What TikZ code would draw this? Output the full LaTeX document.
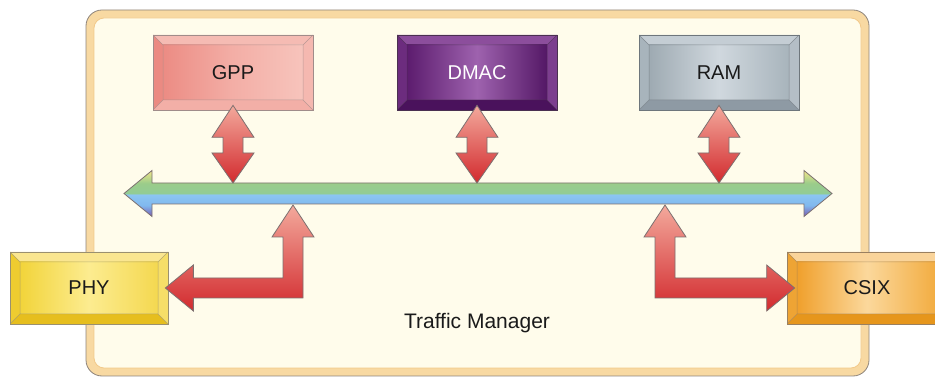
\documentclass[tikz,border=0pt]{standalone}
\usepackage{fontspec}
\setmainfont{Liberation Sans}
\usetikzlibrary{calc}

% frame
\definecolor{frameEdge}{HTML}{8F857C}
\definecolor{frameBand}{HTML}{F8D9A2}
\definecolor{frameInner}{HTML}{FFFCEB}
\definecolor{frameInnerEdge}{HTML}{F2C98A}
% block arrows
\definecolor{arrowTop}{HTML}{F3A99C}
\definecolor{arrowBot}{HTML}{D22A2E}
\definecolor{arrowEdge}{HTML}{7C7070}
\definecolor{labelInk}{HTML}{1A1A1A}
% bus
\definecolor{busPurple}{HTML}{7A5AB0}
\definecolor{busBlue}{HTML}{80B8EE}
\definecolor{busBlueB}{HTML}{8CC6F2}
\definecolor{busGreen}{HTML}{92CC94}
\definecolor{busGreenB}{HTML}{9ACC8A}
\definecolor{busYellow}{HTML}{F2E68A}
% GPP
\definecolor{gppFL}{HTML}{EC8C84}\definecolor{gppFM}{HTML}{F3AEA6}\definecolor{gppFR}{HTML}{F7C4BC}
\definecolor{gppT}{HTML}{F5BBB3}\definecolor{gppB}{HTML}{F3AFA7}
\definecolor{gppL}{HTML}{EB8A82}\definecolor{gppR}{HTML}{F5B8B0}
\definecolor{gppE}{HTML}{A08C8A}
% DMAC
\definecolor{dmacFL}{HTML}{5C1C6E}\definecolor{dmacFM}{HTML}{9E62AE}\definecolor{dmacFR}{HTML}{541866}
\definecolor{dmacT}{HTML}{8C4E9C}\definecolor{dmacB}{HTML}{4A125C}
\definecolor{dmacL}{HTML}{6C2C7E}\definecolor{dmacR}{HTML}{7C3E8E}
\definecolor{dmacE}{HTML}{4A3050}
% RAM
\definecolor{ramFL}{HTML}{9EAAB2}\definecolor{ramFM}{HTML}{D0D8DE}\definecolor{ramFR}{HTML}{A8B4BC}
\definecolor{ramT}{HTML}{C4CDD4}\definecolor{ramB}{HTML}{8E9AA4}
\definecolor{ramL}{HTML}{A8B4BC}\definecolor{ramR}{HTML}{B4BEC6}
\definecolor{ramE}{HTML}{6E767C}
% PHY
\definecolor{phyFL}{HTML}{F2D43A}\definecolor{phyFM}{HTML}{FCEC90}\definecolor{phyFR}{HTML}{F4D850}
\definecolor{phyT}{HTML}{FAE690}\definecolor{phyB}{HTML}{E6BE1E}
\definecolor{phyL}{HTML}{EECC30}\definecolor{phyR}{HTML}{F6DE68}
\definecolor{phyE}{HTML}{9A9070}
% CSIX
\definecolor{csixFL}{HTML}{F0A02C}\definecolor{csixFM}{HTML}{FBD89C}\definecolor{csixFR}{HTML}{F2AC40}
\definecolor{csixT}{HTML}{FAD49A}\definecolor{csixB}{HTML}{E6961C}
\definecolor{csixL}{HTML}{EEA434}\definecolor{csixR}{HTML}{F4BA60}
\definecolor{csixE}{HTML}{9A8060}

\pgfdeclareverticalshading{busshade}{100bp}{%
  color(0bp)=(busPurple); color(25bp)=(busPurple); color(37bp)=(busBlue);
  color(49bp)=(busBlueB); color(50bp)=(busGreen); color(61bp)=(busGreenB);
  color(75bp)=(busYellow); color(100bp)=(busYellow)}

% bevelled face of a box; #1 is the colour prefix
\newcommand\bevelfill[1]{%
  \path (path picture bounding box.north west) coordinate (bNW)
        (path picture bounding box.north east) coordinate (bNE)
        (path picture bounding box.south east) coordinate (bSE)
        (path picture bounding box.south west) coordinate (bSW);
  \path ($(bNW)+(10pt,-10pt)$) coordinate (iNW)
        ($(bNE)+(-10pt,-10pt)$) coordinate (iNE)
        ($(bSE)+(-10pt,10pt)$) coordinate (iSE)
        ($(bSW)+(10pt,10pt)$) coordinate (iSW);
  \fill[#1T] (bNW)--(bNE)--(iNE)--(iNW)--cycle;
  \fill[#1B] (bSW)--(bSE)--(iSE)--(iSW)--cycle;
  \fill[#1L] (bNW)--(bSW)--(iSW)--(iNW)--cycle;
  \fill[#1R] (bNE)--(bSE)--(iSE)--(iNE)--cycle;
  \shade[left color=#1FL, right color=#1FR, middle color=#1FM] (iNW) rectangle (iSE);
  \draw[#1E, line width=0.5pt, opacity=0.7] (iNW) rectangle (iSE)
        (bNW)--(iNW) (bNE)--(iNE) (bSE)--(iSE) (bSW)--(iSW);
}

% double-headed vertical block arrow between two tips
\newcommand\vdarrow[2]{%
  \path[blockarrow] let \p1=(#1), \p2=(#2) in
    (\x1,\y1) -- (\x1+21pt,\y1-32pt) -- (\x1+10pt,\y1-32pt)
    -- (\x1+10pt,\y2+30pt) -- (\x1+21pt,\y2+30pt) -- (\x1,\y2)
    -- (\x1-21pt,\y2+30pt) -- (\x1-10pt,\y2+30pt)
    -- (\x1-10pt,\y1-32pt) -- (\x1-21pt,\y1-32pt) -- cycle;}

% L-shaped block arrow: up to #1, sideways to the left to #2
\newcommand\lleftarrow[2]{%
  \path[blockarrow] let \p1=(#1), \p2=(#2) in
    (\x1,\y1) -- (\x1+21pt,\y1-32pt) -- (\x1+10pt,\y1-32pt)
    -- (\x1+10pt,\y2-10pt) -- (\x2+28pt,\y2-10pt) -- (\x2+28pt,\y2-23pt)
    -- (\x2,\y2) -- (\x2+28pt,\y2+23pt) -- (\x2+28pt,\y2+10pt)
    -- (\x1-10pt,\y2+10pt) -- (\x1-10pt,\y1-32pt) -- (\x1-21pt,\y1-32pt) -- cycle;}

% L-shaped block arrow: up to #1, sideways to the right to #2
\newcommand\lrightarrow[2]{%
  \path[blockarrow] let \p1=(#1), \p2=(#2) in
    (\x1,\y1) -- (\x1+21pt,\y1-32pt) -- (\x1+10pt,\y1-32pt)
    -- (\x1+10pt,\y2+10pt) -- (\x2-28pt,\y2+10pt) -- (\x2-28pt,\y2+23pt)
    -- (\x2,\y2) -- (\x2-28pt,\y2-23pt) -- (\x2-28pt,\y2-10pt)
    -- (\x1-10pt,\y2-10pt) -- (\x1-10pt,\y1-32pt) -- (\x1-21pt,\y1-32pt) -- cycle;}

\begin{document}
\begin{tikzpicture}[x=1pt, y=-1pt,
  bevelbox/.style={rectangle, inner sep=0pt, minimum width=160pt, minimum height=75pt,
    draw=#1E, line width=0.7pt, fill=#1FM, path picture={\bevelfill{#1}},
    font=\fontsize{20}{24}\selectfont, text=labelInk},
  blockarrow/.style={draw=arrowEdge, line width=0.8pt, top color=arrowTop, bottom color=arrowBot},
  busarrow/.style={draw=arrowEdge, line width=0.8pt, shading=busshade}]

\useasboundingbox (0,0) rectangle (935,379);
\fill[white] (0,0) rectangle (935,379);

% Traffic Manager frame
\draw[frameEdge, fill=frameBand, line width=0.8pt, rounded corners=16pt] (86,10) rectangle (869,376);
\draw[frameInnerEdge, fill=frameInner, line width=0.8pt, rounded corners=10pt] (94,18) rectangle (861,368);

% units
\node[bevelbox=gpp]  (gpp)  at (233,72.5) {GPP};
\node[bevelbox=dmac, text=white] (dmac) at (477,72.5) {DMAC};
\node[bevelbox=ram]  (ram)  at (719,72.5) {RAM};
\node[bevelbox=phy, minimum width=158pt, minimum height=72pt]  (phy)  at (89,288) {PHY};
\node[bevelbox=csix, minimum height=72pt] (csix) at (867,288) {CSIX};

\node[font=\fontsize{21}{25}\selectfont, text=labelInk] (tm) at (477,323) {Traffic Manager};

% shared bus
\coordinate (busL) at (124,193.5);
\coordinate (busR) at (832,193.5);
\path[busarrow] let \p1=(busL), \p2=(busR) in
  (\x1,\y1) -- (\x1+28pt,\y1+23pt) -- (\x1+28pt,\y1+10.5pt) -- (\x2-28pt,\y1+10.5pt)
  -- (\x2-28pt,\y1+23pt) -- (\x2,\y2) -- (\x2-28pt,\y1-23pt) -- (\x2-28pt,\y1-10.5pt)
  -- (\x1+28pt,\y1-10.5pt) -- (\x1+28pt,\y1-23pt) -- cycle;

% bus taps
\coordinate (gppTap)  at (gpp.south |- 0,183);
\coordinate (dmacTap) at (dmac.south |- 0,183);
\coordinate (ramTap)  at (ram.south |- 0,183);
\vdarrow{$(gpp.south)+(0,-5)$}{gppTap}
\vdarrow{$(dmac.south)+(0,-5)$}{dmacTap}
\vdarrow{$(ram.south)+(0,-5)$}{ramTap}

\coordinate (phyTap)  at (293,205);
\coordinate (csixTap) at (665,205);
\lleftarrow{phyTap}{$(phy.east)+(-3,0)$}
\lrightarrow{csixTap}{$(csix.west)+(8,0)$}
\end{tikzpicture}
\end{document}
